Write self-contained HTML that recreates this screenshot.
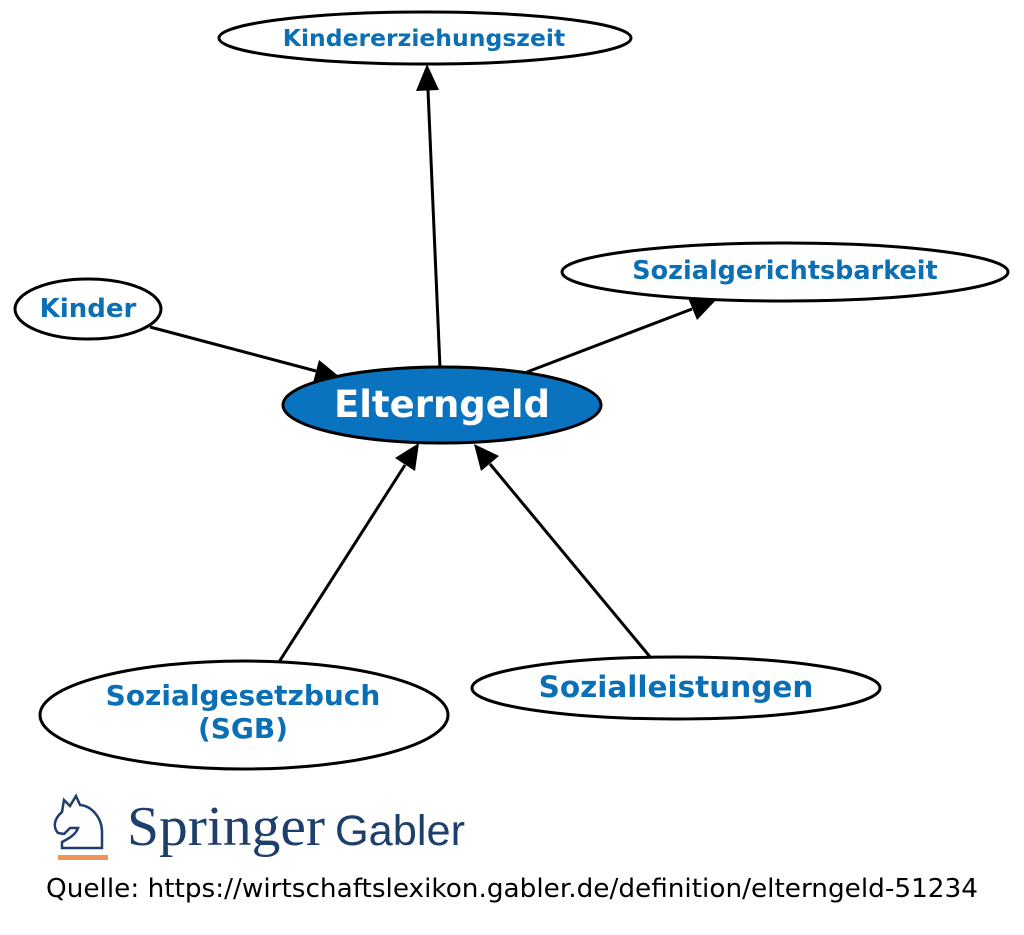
<!DOCTYPE html>
<html><head><meta charset="utf-8"><style>
html,body{margin:0;padding:0;background:#fff;}
svg{display:block;}
</style></head><body>
<svg width="1024" height="935" viewBox="0 0 1024 935" xmlns="http://www.w3.org/2000/svg">
<g stroke="#000" stroke-width="3" fill="none">
<line x1="440" y1="368" x2="428" y2="90"/>
<line x1="150" y1="327" x2="316" y2="371"/>
<line x1="527" y1="372" x2="692" y2="309"/>
<line x1="279" y1="662" x2="405" y2="465"/>
<line x1="651" y1="658" x2="490" y2="464"/>
</g>
<g fill="#000">
<polygon points="427,64 416,91 439,90"/>
<polygon points="341,378 313,383 319,360"/>
<polygon points="716,300 688,298 697,320"/>
<polygon points="419,443 395,458 415,471"/>
<polygon points="474,444 481,471 499,456"/>
</g>
<g stroke="#000" stroke-width="3" fill="#fff">
<ellipse cx="425" cy="38" rx="206" ry="26"/>
<ellipse cx="785" cy="272" rx="223" ry="29"/>
<ellipse cx="88" cy="309" rx="73" ry="30"/>
<ellipse cx="442" cy="405" rx="159" ry="38" fill="#0a73c0"/>
<ellipse cx="244" cy="715" rx="204" ry="54"/>
<ellipse cx="676" cy="688" rx="204" ry="31"/>
</g>
<g font-family="'DejaVu Sans','Liberation Sans',sans-serif" font-weight="bold" fill="#0a6fb5" text-anchor="middle">
<text x="424" y="46" font-size="23.5">Kindererziehungszeit</text>
<text x="785" y="279" font-size="25.5">Sozialgerichtsbarkeit</text>
<text x="88" y="317" font-size="26">Kinder</text>
<text x="442" y="417" font-size="37" fill="#fff">Elterngeld</text>
<text x="243" y="705" font-size="28">Sozialgesetzbuch</text>
<text x="243" y="738" font-size="28">(SGB)</text>
<text x="676" y="697" font-size="29.5">Sozialleistungen</text>
</g>
<g stroke="#1e3f6e" stroke-width="2.5" fill="none">
<path d="M58,833 C52,826 55,818 62,812 L64,800 L70,806 L76,796 L80,805 C92,806 102,818 102,832 L102,848 L62,848 L62,842 C70,838 76,834 78,828 L70,828 L64,834 Z"/>
</g>
<rect x="58" y="855" width="50" height="5" fill="#f0955a"/>
<text x="127" y="845" font-family="'Liberation Serif',serif" font-size="56" fill="#1e3f6e" textLength="198" lengthAdjust="spacingAndGlyphs">Springer</text>
<text x="335" y="845" font-family="'Liberation Sans',sans-serif" font-size="43" fill="#1e3f6e" textLength="130" lengthAdjust="spacingAndGlyphs">Gabler</text>
<text x="46" y="897" font-family="'DejaVu Sans','Liberation Sans',sans-serif" font-size="26" fill="#000" textLength="932" lengthAdjust="spacingAndGlyphs">Quelle: https://wirtschaftslexikon.gabler.de/definition/elterngeld-51234</text>
</svg>
</body></html>
